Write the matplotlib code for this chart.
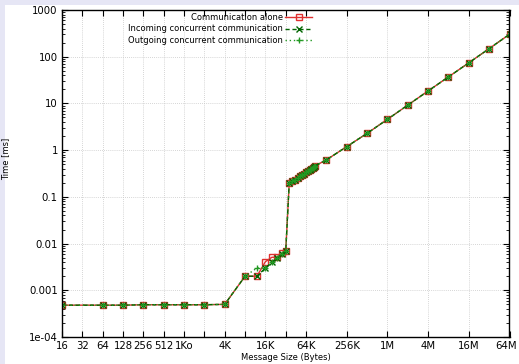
import matplotlib
matplotlib.use("Agg")
import matplotlib.pyplot as plt
from matplotlib.ticker import FixedLocator, NullFormatter, LogLocator
from matplotlib.patches import Rectangle
import matplotlib.transforms as mtransforms

K = 1024
sizes = [16, 64, 128, 256, 512, 1024, 2048, 4096,
         8*K, 12*K, 16*K, 20*K, 24*K, 28*K, 32*K,
         36*K, 40*K, 44*K, 48*K, 52*K, 56*K, 60*K, 64*K, 68*K, 72*K, 76*K, 80*K, 84*K, 88*K,
         128*K, 256*K, 512*K, 1024*K, 2048*K, 4096*K, 8192*K, 16384*K, 32768*K, 65536*K]

alone = [0.00048, 0.00048, 0.00048, 0.00049, 0.00049, 0.00049, 0.00049, 0.0005,
         0.002, 0.002, 0.0041, 0.0051, 0.0051, 0.0062, 0.0070,
         0.195, 0.215, 0.235, 0.255, 0.275, 0.295, 0.315, 0.335, 0.355, 0.375, 0.395, 0.42, 0.44, 0.465,
         0.62, 1.19, 2.29, 4.57, 9.2, 18.5, 37.0, 74.0, 149.0, 302.0]

incoming = [0.00048, 0.00048, 0.00048, 0.00049, 0.00049, 0.00049, 0.00049, 0.0005,
            0.002, 0.002, 0.0030, 0.0040, 0.0050, 0.0060, 0.0070,
            0.195, 0.215, 0.235, 0.255, 0.275, 0.295, 0.315, 0.335, 0.355, 0.375, 0.395, 0.42, 0.44, 0.465,
            0.62, 1.19, 2.29, 4.57, 9.2, 18.5, 37.0, 74.0, 149.0, 302.0]

outgoing = [0.00048, 0.00048, 0.00048, 0.00049, 0.00049, 0.00049, 0.00049, 0.0005,
            0.002, 0.0030, 0.0030, 0.0040, 0.0050, 0.0060, 0.0070,
            0.195, 0.215, 0.235, 0.255, 0.275, 0.295, 0.315, 0.335, 0.355, 0.375, 0.395, 0.42, 0.44, 0.465,
            0.62, 1.19, 2.29, 4.57, 9.2, 18.5, 37.0, 74.0, 149.0, 302.0]

xtick_vals = [16, 32, 64, 128, 256, 512, 1024, 2048, 4096, 8192, 16384, 32768, 65536,
              262144, 1048576, 4194304, 16777216, 67108864]
xtick_labels = ["16", "32", "64", "128", "256", "512", "1Ko", "", "4K", "", "16K", "", "64K",
                "256K", "1M", "4M", "16M", "64M"]
ytick_vals = [1e-4, 1e-3, 1e-2, 1e-1, 1, 10, 100, 1000]
ytick_labels = ["1e-04", "0.001", "0.01", "0.1", "1", "10", "100", "1000"]

fig = plt.figure(figsize=(5.19, 3.64), dpi=100)
fig.patch.set_facecolor("#e6e6f5")
fig.patches.append(Rectangle((5/519, 0), 1, 1 - 5/364, transform=fig.transFigure,
                             facecolor="white", edgecolor="none", zorder=-10))
ax = fig.add_axes([62/519, 1 - 337/364, (509.5 - 62)/519, (337 - 10)/364])

ax.plot(sizes, alone, color="#e03030", lw=1.0, marker="s", ms=5, mfc="none", mec="#e03030",
        mew=1.0, label="Communication alone")
ax.plot(sizes, incoming, color="#006400", lw=1.0, ls=(0, (3, 2)), marker="x", ms=4, mew=1.0,
        label="Incoming concurrent communication")
ax.plot(sizes, outgoing, color="#229922", lw=1.0, ls=(0, (1, 2)), marker="+", ms=5, mew=1.0,
        label="Outgoing concurrent communication")

ax.set_xscale("log", base=2)
ax.set_yscale("log")
ax.set_xlim(16, 67108864)
ax.set_ylim(1e-4, 1000)

ax.xaxis.set_major_locator(FixedLocator(xtick_vals))
ax.set_xticklabels(xtick_labels)
ax.xaxis.set_minor_locator(FixedLocator([]))
ax.yaxis.set_major_locator(FixedLocator(ytick_vals))
ax.set_yticklabels(ytick_labels)
ax.yaxis.set_minor_locator(LogLocator(base=10, subs=(2, 3, 4, 5, 6, 7, 8, 9), numticks=20))
ax.yaxis.set_minor_formatter(NullFormatter())

ax.tick_params(which="both", direction="in", top=True, right=True, labelsize=7.3, colors="black")
ax.tick_params(which="major", length=4, width=0.8, pad=3)
ax.tick_params(which="minor", length=2, width=0.6)
for s in ax.spines.values():
    s.set_linewidth(1.0)

# nudge the last x tick label so it stays inside the figure
last = ax.get_xticklabels()[-1]
last.set_transform(last.get_transform() + mtransforms.ScaledTranslation(-3/100, 0, fig.dpi_scale_trans))

ax.grid(True, which="major", color="#c8c8c8", ls=(0, (1, 1.5)), lw=0.6)

ax.set_xlabel("Message Size (Bytes)", fontsize=6, labelpad=1)
ax.set_ylabel("Time [ms]", fontsize=6)
ax.yaxis.set_label_coords((10 - 62) / 447.5, 0.544)

leg = ax.legend(loc="upper right", bbox_to_anchor=(0.57, 1.005), frameon=False, fontsize=6,
                markerfirst=False, handlelength=3.2, handletextpad=0.3, labelspacing=0.25,
                borderaxespad=0.2)

fig.savefig("out.png", dpi=100, facecolor=fig.get_facecolor())
